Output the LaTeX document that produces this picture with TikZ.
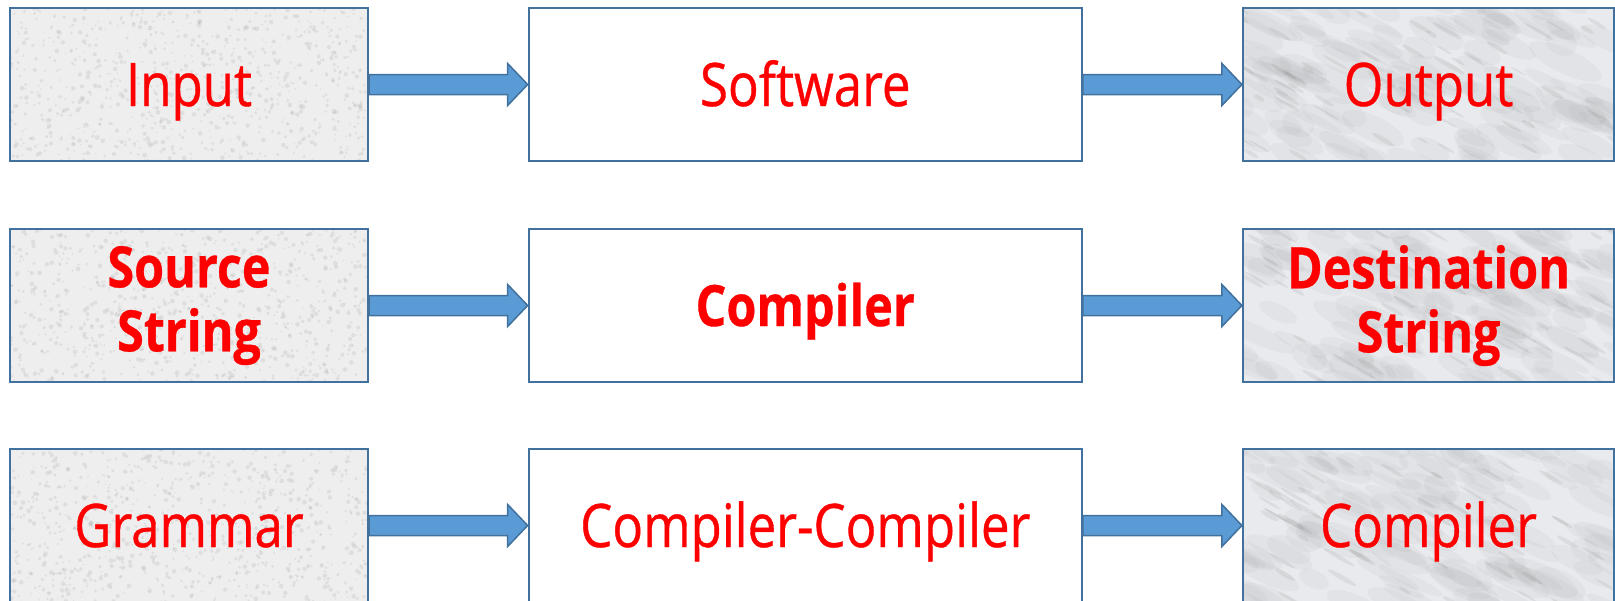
\documentclass[tikz,border=0pt]{standalone}
\usepackage{fontspec}
\setmainfont[FakeStretch=0.85,FakeBold=0.6]{Open Sans}
\usetikzlibrary{calc}
\definecolor{boxline}{HTML}{41719C}
\definecolor{arrowfill}{HTML}{5B9BD5}
\definecolor{granite}{HTML}{EEEEEE}
\definecolor{marble}{HTML}{E9EAED}
\definecolor{txtred}{HTML}{FF0000}
\tikzset{
  box/.style={draw=boxline, line width=2.2pt, rectangle, inner sep=0pt,
    minimum height=153pt, text=txtred, font=\fontsize{60}{64}\selectfont,
    text height=43pt, text depth=0pt},
  granitetex/.style={path picture={
    \foreach \i in {1,...,900}{
      \fill[black!30, opacity=0.25] ($(path picture bounding box.center)+({(rnd-0.5)*372},{(rnd-0.5)*158})$) circle[radius={0.8+1.6*rnd}];}
  }},
  marbletex/.style={path picture={
    \foreach \i in {1,...,120}{
      \fill[black!50, opacity=0.06] ($(path picture bounding box.center)+({(rnd-0.5)*390},{(rnd-0.5)*170})$) ellipse[x radius={15+25*rnd}, y radius={5+8*rnd}, rotate=-25];}
    \foreach \i in {1,...,60}{
      \fill[black!60, opacity=0.10] ($(path picture bounding box.center)+({(rnd-0.5)*390},{(rnd-0.5)*170})$) ellipse[x radius={6+12*rnd}, y radius={1+1.5*rnd}, rotate=-30];}
  }},
  leftbox/.style={box, fill=granite, granitetex, minimum width=358pt},
  midbox/.style={box, fill=white, minimum width=553pt},
  rightbox/.style={box, fill=marble, marbletex, minimum width=371pt},
  boldtxt/.style={font=\fontsize{57}{64}\selectfont\bfseries, align=center, text height=, text depth=},
  arrowbody/.style={fill=arrowfill, draw=boxline, line width=1.5pt, line join=miter}
}
\newcommand\blockarrow[2]{%
  \draw[arrowbody] ($(#1.east)+(0,-10)$) -- ($(#2.west)+(-20,-10)$) -- ($(#2.west)+(-20,-21)$)
    -- (#2.west) -- ($(#2.west)+(-20,21)$) -- ($(#2.west)+(-20,10)$) -- ($(#1.east)+(0,10)$) -- cycle;}
\begin{document}
\begin{tikzpicture}[x=1pt,y=-1pt]
\pgfmathsetseed{7}
\useasboundingbox (0,0) rectangle (1615,600);
% row 1
\node[leftbox]  (in)   at (189,84.5)    {Input};
\node[midbox]   (sw)   at (805.25,84.5) {Software};
\node[rightbox] (out)  at (1428.5,84.5) {Output};
% row 2
\node[leftbox, boldtxt]  (src)  at (189,305.5)    {Source\\String};
\node[midbox, font=\fontsize{57}{64}\selectfont\bfseries, text height=41pt] (comp) at (805.25,305.5) {Compiler};
\node[rightbox, boldtxt] (dst)  at (1428.5,305.5) {Destination\\String};
% row 3
\node[leftbox]  (gram) at (189,525.5)    {Grammar};
\node[midbox]   (cc)   at (805.25,525.5) {Compiler-Compiler};
\node[rightbox] (res)  at (1428.5,525.5) {Compiler};
% arrows
\blockarrow{in}{sw}
\blockarrow{sw}{out}
\blockarrow{src}{comp}
\blockarrow{comp}{dst}
\blockarrow{gram}{cc}
\blockarrow{cc}{res}
\end{tikzpicture}
\end{document}
